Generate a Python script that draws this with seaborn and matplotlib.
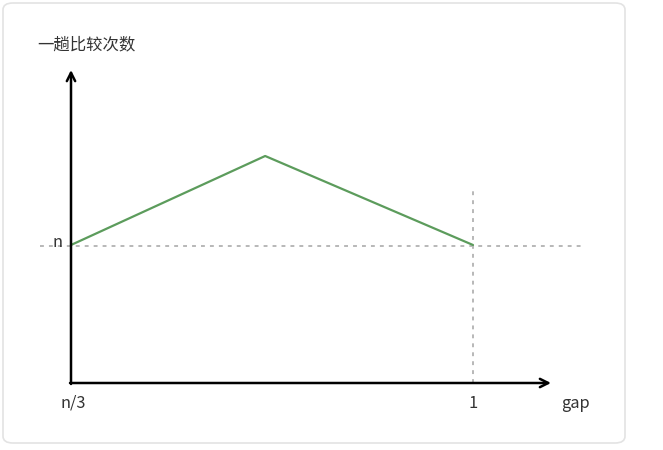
import matplotlib
matplotlib.use('Agg')
import matplotlib.pyplot as plt
from matplotlib.patches import FancyBboxPatch
import seaborn as sns
import pandas as pd

# data (x in gap units: 0 -> n/3, 1 -> 1; y in units of n)
gap_x = [0.0, 0.483, 1.0]
compares_y = [1.0, 1.645, 1.0]
x_tick_labels = ['n/3', '1']
y_tick_label = 'n'
x_axis_label = 'gap'
y_axis_label = '一趟比较次数'

sns.set_style('white')
plt.rcParams['font.family'] = ['Noto Sans CJK SC', 'DejaVu Sans']

W, H = 663, 450
fig = plt.figure(figsize=(W / 100, H / 100), dpi=100)
fig.patch.set_facecolor('white')

# rounded card border (behind the axes)
card = FancyBboxPatch((3 / W, 7 / H), 622 / W, 440 / H,
                      boxstyle='round,pad=0,rounding_size=0.015',
                      transform=fig.transFigure, facecolor='none',
                      edgecolor='#e3e3e3', linewidth=1.2, zorder=-1)
fig.patches.append(card)

ax = fig.add_axes([0, 0, 1, 1])
ax.set_facecolor('none')
# pixel mapping: x origin at 71px, x=1 at 473px; y origin at 383px, y=n at 245px
ax.set_xlim(-71 / 402, (W - 71) / 402)
ax.set_ylim(-(H - 383) / 138, 383 / 138)
ax.axis('off')

# dotted guides
guide = dict(color='#b8b8b8', lw=1.4, ls=(0, (2, 2.6)), zorder=1)
ax.plot([-31 / 402, (582 - 71) / 402], [1 - 1 / 138, 1 - 1 / 138], **guide)
ax.plot([1, 1], [0, (383 - 188) / 138], **guide)

df = pd.DataFrame({'gap': gap_x, 'count': compares_y})
sns.lineplot(data=df, x='gap', y='count', ax=ax, color='#5c9c5c', lw=1.6,
             zorder=3, legend=False)

# axes with arrows
x_end = (551 - 71) / 402
y_end = (383 - 70) / 138
ax.annotate('', xy=(x_end, 0), xytext=(-1 / 402, 0),
            arrowprops=dict(arrowstyle='->,head_length=0.6,head_width=0.3',
                            lw=1.8, color='black', shrinkA=0, shrinkB=0))
ax.annotate('', xy=(0, y_end), xytext=(0, -1 / 138),
            arrowprops=dict(arrowstyle='->,head_length=0.6,head_width=0.3',
                            lw=1.8, color='black', shrinkA=0, shrinkB=0))

fs = 11.8
ax.text(2 / 402, -(403 - 383) / 138, x_tick_labels[0], ha='center', va='center',
        fontsize=fs, color='#333333')
ax.text(1, -(403 - 383) / 138, x_tick_labels[1], ha='center', va='center',
        fontsize=fs, color='#333333')
ax.text((575 - 71) / 402, -(403 - 383) / 138, x_axis_label, ha='center',
        va='center', fontsize=fs, color='#333333')
ax.text(-13 / 402, (383 - 243) / 138, y_tick_label, ha='center', va='center',
        fontsize=fs, color='#333333')
ax.text((37 - 71) / 402, (383 - 45) / 138, y_axis_label, ha='left',
        va='center', fontsize=fs, color='#333333')

fig.savefig('out.png', dpi=100, facecolor='white')
